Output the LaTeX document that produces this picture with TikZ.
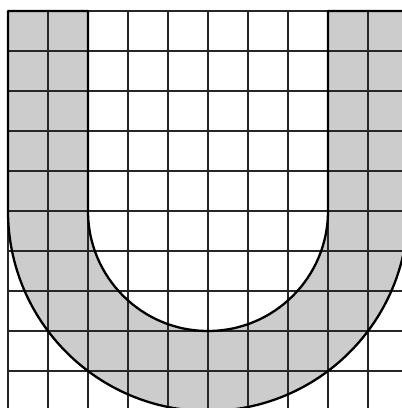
\documentclass[tikz,border=0pt]{standalone}
\begin{document}
\begin{tikzpicture}[x=1pt,y=1pt,
  gridline/.style={line width=1.3pt,color=black!85},
  ushape/.style={line width=2.3pt,color=black,line join=round},
  ufill/.style={fill=black!20}]
\useasboundingbox (0,0) rectangle (402,408);
\clip (0,0) rectangle (402,408);
\fill[white] (0,0) rectangle (402,408);
% filled U band
\fill[ufill] (8,397) -- (8,197) arc[start angle=180,end angle=360,radius=200] -- (408,397) -- (328,397) -- (328,197) arc[start angle=0,end angle=-180,radius=120] -- (88,397) -- cycle;
% grid
\foreach \k in {0,...,10} {
  \draw[gridline] (8+40*\k,397) -- (8+40*\k,-5);
  \draw[gridline] (8,397-40*\k) -- (410,397-40*\k);
}
% outline of U
\draw[ushape] (8,397) -- (8,197) arc[start angle=180,end angle=360,radius=200] -- (408,397) -- (328,397) -- (328,197) arc[start angle=0,end angle=-180,radius=120] -- (88,397) -- cycle;
\end{tikzpicture}
\end{document}
